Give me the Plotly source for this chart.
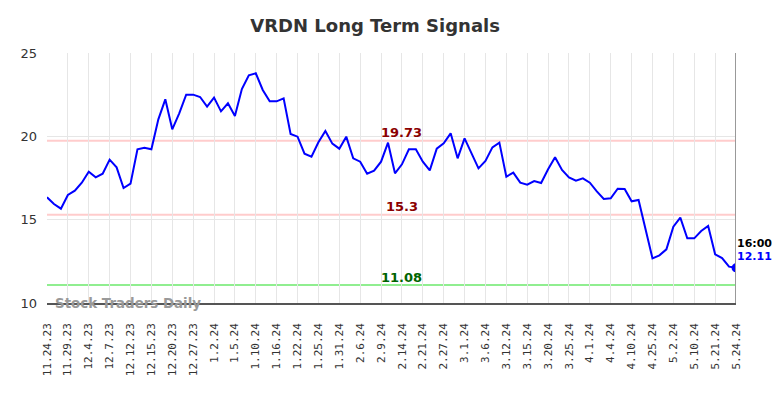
import plotly.graph_objects as go

tick_labels = ["11.24.23","11.29.23","12.4.23","12.7.23","12.12.23","12.15.23","12.20.23",
               "12.27.23","1.2.24","1.5.24","1.10.24","1.16.24","1.22.24","1.25.24","1.31.24",
               "2.6.24","2.9.24","2.14.24","2.21.24","2.27.24","3.1.24","3.6.24","3.12.24",
               "3.15.24","3.20.24","3.25.24","4.1.24","4.4.24","4.10.24","4.25.24","5.2.24",
               "5.10.24","5.21.24","5.24.24"]

values = [16.34, 15.94, 15.66, 16.48, 16.74, 17.22, 17.88, 17.54, 17.76, 18.60,
          18.14, 16.90, 17.16, 19.22, 19.32, 19.22, 21.02, 22.22, 20.42, 21.38,
          22.50, 22.50, 22.36, 21.78, 22.32, 21.50, 21.98, 21.22, 22.84, 23.66,
          23.78, 22.78, 22.10, 22.10, 22.28, 20.14, 19.98, 18.96, 18.78, 19.64,
          20.32, 19.56, 19.26, 19.98, 18.68, 18.48, 17.76, 17.94, 18.48, 19.62,
          17.78, 18.32, 19.22, 19.22, 18.48, 17.96, 19.26, 19.58, 20.18, 18.68,
          19.88, 18.98, 18.08, 18.52, 19.34, 19.62, 17.58, 17.82, 17.22, 17.10,
          17.32, 17.20, 18.02, 18.74, 17.98, 17.54, 17.34, 17.48, 17.22, 16.70,
          16.24, 16.28, 16.86, 16.84, 16.10, 16.18, 14.40, 12.68, 12.86, 13.22,
          14.58, 15.12, 13.88, 13.88, 14.32, 14.62, 12.92, 12.70, 12.18, 12.11]

levels = [19.73, 15.3, 11.08]
level_colors = ["#ffcccc", "#ffcccc", "#90ee90"]
level_text_colors = ["#8b0000", "#8b0000", "#006400"]
last_time = "16:00"

idx = list(range(len(values)))
tick_idx = idx[::3]

fig = go.Figure()
fig.add_trace(go.Scatter(x=idx, y=values, mode="lines",
                         line=dict(color="#0000ff", width=2), hoverinfo="skip"))
fig.add_trace(go.Scatter(x=[idx[-1]], y=[values[-1]], mode="markers",
                         marker=dict(color="#0000ff", size=9), hoverinfo="skip"))

for lv, lc, tc in zip(levels, level_colors, level_text_colors):
    fig.add_shape(type="line", xref="x", yref="y", x0=idx[0], x1=idx[-1], y0=lv, y1=lv,
                  line=dict(color=lc, width=2), layer="below")
    fig.add_annotation(x=51, y=lv, text="<b>%s</b>" % lv, showarrow=False,
                       yshift=8, font=dict(family="DejaVu Sans", size=13, color=tc))

fig.add_shape(type="line", xref="x", yref="y", x0=idx[-1], x1=idx[-1], y0=10, y1=25,
              line=dict(color="#999999", width=2))

fig.add_annotation(x=idx[-1], y=values[-1], text="<b>%s</b>" % last_time, showarrow=False,
                   xanchor="left", yshift=24, xshift=-1,
                   font=dict(family="DejaVu Sans", size=11, color="#000000"))
fig.add_annotation(x=idx[-1], y=values[-1], text="<b>%.2f</b>" % values[-1], showarrow=False,
                   xanchor="left", yshift=11, xshift=-1,
                   font=dict(family="DejaVu Sans", size=11, color="#0000ff"))

fig.add_annotation(xref="paper", yref="y", x=0.008, y=10, text="<b>Stock Traders Daily</b>",
                   showarrow=False, xanchor="left", yanchor="middle",
                   font=dict(family="DejaVu Sans", size=13.4, color="#999999"))

fig.update_layout(
    width=768, height=382,
    margin=dict(l=34, r=40, t=45, b=87),
    paper_bgcolor="white", plot_bgcolor="white",
    showlegend=False,
    title=dict(text="<b>VRDN Long Term Signals</b>", x=0.478, xanchor="center",
               y=0.953, yanchor="middle",
               font=dict(family="DejaVu Sans", size=18, color="#333333")),
    xaxis=dict(range=[idx[0], idx[-1]], tickmode="array", tickvals=tick_idx, ticktext=tick_labels,
               tickangle=-90, showgrid=True, gridcolor="#e6e6e6", gridwidth=1,
               showline=True, linecolor="#555555", linewidth=1.5, ticks="",
               ticklabelstandoff=14,
               tickfont=dict(family="DejaVu Sans Mono", size=11, color="#333333"),
               zeroline=False),
    yaxis=dict(range=[10, 25], tickvals=[10, 15, 20, 25], showgrid=True, gridcolor="#e6e6e6",
               gridwidth=1, zeroline=False, ticks="", ticklen=0, ticklabelstandoff=9,
               tickfont=dict(family="DejaVu Sans", size=13, color="#333333")),
)
fig.update_xaxes(tickprefix="<b>", ticksuffix="</b>")

fig.write_html("out.html")
